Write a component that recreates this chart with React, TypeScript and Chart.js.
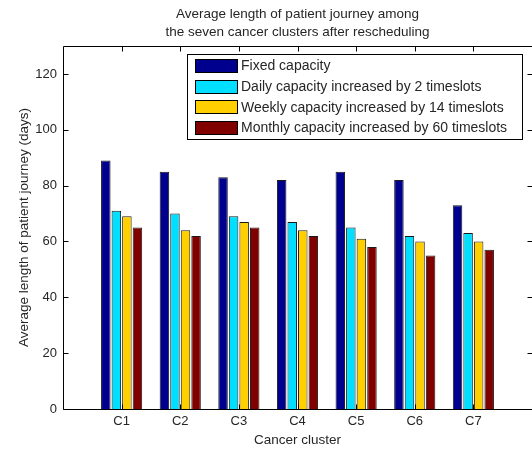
import { useEffect, useRef } from "react";
import { Chart, registerables } from "chart.js";

Chart.register(...registerables);

// Categories and series values (days)
const clusters = ["C1", "C2", "C3", "C4", "C5", "C6", "C7"];
const fixedCapacity = [89, 85, 83, 82, 85, 82, 73];
const dailyPlus2 = [71, 70, 69, 67, 65, 62, 63];
const weeklyPlus14 = [69, 64, 67, 64, 61, 60, 60];
const monthlyPlus60 = [65, 62, 65, 62, 58, 55, 57];

const seriesNames = [
  "Fixed capacity",
  "Daily capacity increased by 2 timeslots",
  "Weekly capacity increased by 14 timeslots",
  "Monthly capacity increased by 60 timeslots",
];
const seriesColors = ["#00008F", "#00DFFF", "#FFCF00", "#800000"];
const yTicks = [0, 20, 40, 60, 80, 100, 120];
const yMax = 130;

const FONT = "'Liberation Sans', Arial, sans-serif";
const TEXT = "#262626";

// x runs from 0 to 8 with the clusters at 1..7
const xLabels = ["", ...clusters, ""];
const pad = (arr: number[]) => [null, ...arr, null];

const framePlugin = {
  id: "frameTicks",
  afterDatasetsDraw(chart: any) {
    const { ctx, chartArea } = chart;
    const { left, right, top, bottom } = chartArea;
    const xs = chart.scales.x;
    const ys = chart.scales.y;
    const len = 5;
    ctx.save();
    ctx.strokeStyle = "#000";
    ctx.lineWidth = 1;
    ctx.beginPath();
    const L = Math.round(left) + 0.5;
    const R = Math.round(right) + 0.5;
    const T = Math.round(top) + 0.5;
    const B = Math.round(bottom) + 0.5;
    ctx.moveTo(L, T);
    ctx.lineTo(R, T);
    ctx.lineTo(R, B);
    ctx.lineTo(L, B);
    ctx.closePath();
    clusters.forEach((c) => {
      const x = Math.round(xs.getPixelForValue(xLabels.indexOf(c))) + 0.5;
      ctx.moveTo(x, T);
      ctx.lineTo(x, T + len);
      ctx.moveTo(x, B);
      ctx.lineTo(x, B - len);
    });
    yTicks.forEach((v) => {
      const y = Math.round(ys.getPixelForValue(v)) + 0.5;
      ctx.moveTo(L, y);
      ctx.lineTo(L + len, y);
      ctx.moveTo(R, y);
      ctx.lineTo(R - len, y);
    });
    ctx.stroke();
    ctx.restore();
  },
};

const legendPlugin = {
  id: "insetLegend",
  afterDraw(chart: any) {
    const { ctx } = chart;
    const bx = 187.5;
    const by = 54.5;
    const bw = 335;
    const bh = 85;
    ctx.save();
    ctx.fillStyle = "#fff";
    ctx.fillRect(bx, by, bw, bh);
    ctx.strokeStyle = "#000";
    ctx.lineWidth = 1;
    ctx.strokeRect(bx, by, bw, bh);
    ctx.font = `14px ${FONT}`;
    ctx.textBaseline = "middle";
    ctx.textAlign = "left";
    chart.data.datasets.forEach((ds: any, i: number) => {
      const cy = 66 + i * 20.6;
      const sy = Math.round(cy - 7);
      ctx.fillStyle = ds.backgroundColor;
      ctx.fillRect(195, sy, 43, 14);
      ctx.strokeStyle = "#000";
      ctx.strokeRect(195.5, sy + 0.5, 42, 13);
      ctx.fillStyle = TEXT;
      ctx.fillText(ds.label, 241, cy + 0.5);
    });
    ctx.restore();
  },
};

export default function App() {
  const canvasRef = useRef<HTMLCanvasElement | null>(null);

  useEffect(() => {
    document.body.style.margin = "0";
    const canvas = canvasRef.current;
    if (!canvas) return;
    const values = [fixedCapacity, dailyPlus2, weeklyPlus14, monthlyPlus60];
    const chart = new Chart(canvas, {
      type: "bar",
      data: {
        labels: xLabels,
        datasets: values.map((v, i) => ({
          label: seriesNames[i],
          data: pad(v),
          backgroundColor: seriesColors[i],
          borderColor: "#1a1a1a",
          borderWidth: 1,
          categoryPercentage: 0.72,
          barPercentage: 0.9,
        })),
      },
      options: {
        responsive: false,
        animation: false,
        devicePixelRatio: 1,
        layout: { padding: 0 },
        plugins: {
          legend: { display: false },
          tooltip: { enabled: false },
          title: {
            display: true,
            fullSize: false,
            text: [
              "Average length of patient journey among",
              "the seven cancer clusters after rescheduling",
            ],
            color: TEXT,
            font: { family: FONT, size: 13.5, weight: "normal", lineHeight: 1.3 },
            padding: { top: 6, bottom: 4.9 },
          },
        },
        scales: {
          x: {
            type: "category",
            offset: false,
            grid: { display: false, drawTicks: false },
            border: { display: false },
            ticks: {
              autoSkip: false,
              maxRotation: 0,
              color: TEXT,
              font: { family: FONT, size: 13 },
              padding: 5,
            },
            title: {
              display: true,
              text: "Cancer cluster",
              color: TEXT,
              font: { family: FONT, size: 13.5 },
              padding: { top: 0, bottom: 2 },
            },
            afterFit: (s: any) => {
              s.height = 41;
              // the axis runs right to the canvas edge
              s.paddingLeft = 0;
              s.paddingRight = 0;
            },
          },
          y: {
            min: 0,
            max: yMax,
            grid: { display: false, drawTicks: false },
            border: { display: false },
            afterBuildTicks: (s: any) => {
              s.ticks = yTicks.map((v) => ({ value: v }));
            },
            ticks: {
              color: TEXT,
              font: { family: FONT, size: 13 },
              padding: 6,
            },
            title: {
              display: true,
              text: "Average length of patient journey (days)",
              color: TEXT,
              font: { family: FONT, size: 13.5 },
              padding: { top: 16, bottom: 0 },
            },
            afterFit: (s: any) => {
              s.width = 63;
            },
          },
        },
      },
      plugins: [framePlugin, legendPlugin],
    });
    return () => chart.destroy();
  }, []);

  return (
    <div style={{ position: "fixed", left: 0, top: 0, width: 532, height: 450, background: "#fff" }}>
      <canvas ref={canvasRef} width={532} height={450} />
    </div>
  );
}
